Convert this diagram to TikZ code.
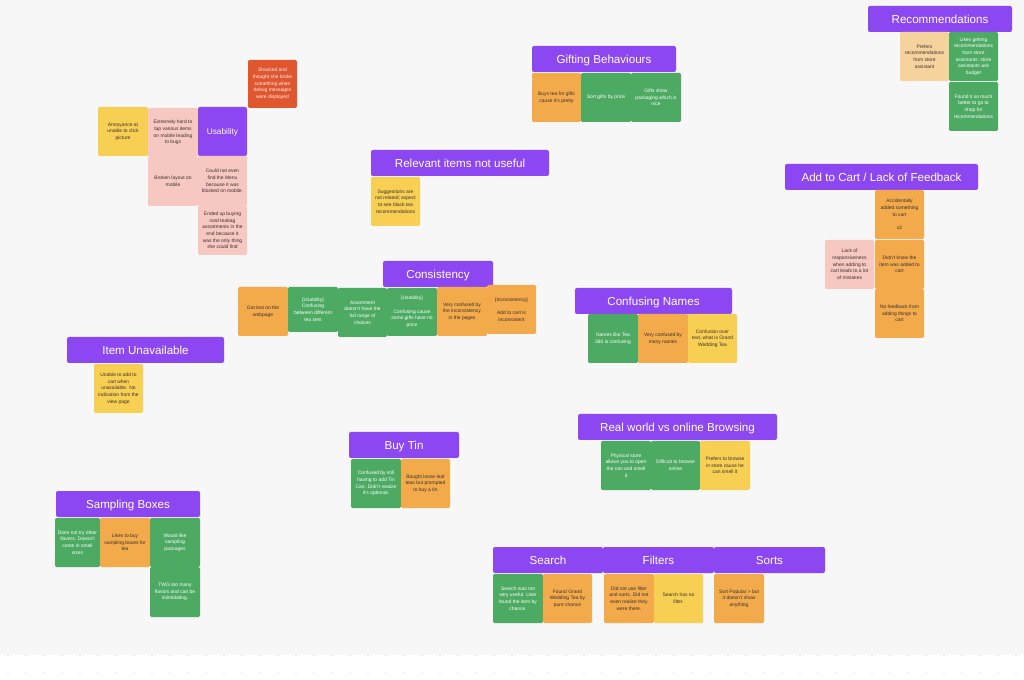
\documentclass[tikz,border=0pt]{standalone}
\usepackage{fontspec}
\setmainfont{Liberation Sans}
\definecolor{bg}{HTML}{F7F7F7}
\definecolor{purp}{HTML}{8C47F3}
\definecolor{gr}{HTML}{4DAA63}
\definecolor{orn}{HTML}{F3AA4B}
\definecolor{yel}{HTML}{F7CF52}
\definecolor{pnk}{HTML}{F7C7C1}
\definecolor{redn}{HTML}{E0572F}
\definecolor{pch}{HTML}{F6D39C}
\definecolor{dark}{HTML}{3A3030}
\tikzset{
  base/.style={rectangle, rounded corners=1pt, inner sep=0pt, align=center,
    font=\fontsize{3.7}{5}\selectfont},
  gn/.style={base, fill=gr, text=white},
  on/.style={base, fill=orn, text=dark},
  yn/.style={base, fill=yel, text=dark},
  pn/.style={base, fill=pnk, text=dark},
  rn/.style={base, fill=redn, text=white!90!redn},
  chn/.style={base, fill=pch, text=dark},
  hdr/.style={rectangle, rounded corners=1.5pt, inner sep=0pt, fill=purp, text=white,
    font=\fontsize{8.7}{10}\selectfont, text height=6.2pt, text depth=0pt},
  griddot/.style={fill=gray!40},
}
% \stk{style}{name}{x1}{y1}{x2}{y2}{text}
\newcommand\stk[7]{\node[#1, minimum width={(#5-#3)*0.75pt}, minimum height={(#6-#4)*0.75pt}]
  (#2) at ({(#3+#5)/2},{(#4+#6)/2}) {#7};}
\begin{document}
\begin{tikzpicture}[x=0.75pt,y=-0.75pt]
\path[fill=white,use as bounding box] (0,0) rectangle (1024,680);
\fill[bg] (0,0) rectangle (1024,655);
\foreach \gx in {8,26,...,1016}{
  \fill[griddot] (\gx,655.5) circle (0.7);
  \fill[griddot] (\gx,673) circle (0.7);
}

% Usability
\stk{rn}{u0}{248}{60}{297}{108}{Shocked and\\thought she broke\\something when\\debug messages\\were displayed}
\stk{yn}{u1}{98}{107}{148}{156}{Annoyance at\\unable to click\\picture}
\stk{pn}{u2}{148}{108}{198}{157}{Extremely hard to\\tap various items\\on mobile leading\\to bugs}
\stk{hdr,font=\fontsize{6.2}{7}\selectfont,text height=4.4pt}{usab}{198}{107}{247}{156}{Usability}
\stk{pn}{u3}{148}{157}{198}{206}{Broken layout on\\mobile}
\stk{pn}{u4}{198}{156}{247}{206}{Could not even\\find the Menu\\because it was\\blocked on mobile.}
\stk{pn}{u5}{198}{206}{247}{255}{Ended up buying\\iced teabag\\assortments in the\\end because it\\was the only thing\\she could find}

% Gifting
\stk{hdr}{gift}{532}{46}{676}{72}{Gifting Behaviours}
\stk{on}{g1}{532}{73}{581}{122}{Buys tea for gifts\\cause it's pretty}
\stk{gn}{g2}{581}{73}{631}{122}{Sort gifts by price}
\stk{gn}{g3}{631}{73}{681}{122}{Gifts show\\packaging which is\\nice}

% Recommendations
\stk{hdr}{rec}{868}{6}{1012}{32}{Recommendations}
\stk{chn}{r1}{900}{32}{949}{81}{Prefers\\recommendations\\from store\\assistant}
\stk{gn}{r2}{949}{32}{998}{81}{Likes getting\\recommendations\\from store\\assistants; store\\assistants ask\\budget}
\stk{gn}{r3}{949}{82}{998}{131}{Found it so much\\better to go to\\shop for\\recommendations}

% Relevant items
\stk{hdr}{rel}{371}{150}{549}{176}{Relevant items not useful}
\stk{yn}{re1}{371}{177}{420}{226}{Suggestions are\\not related; expect\\to see black tea\\recommendations}

% Add to cart
\stk{hdr}{cart}{785}{164}{978}{190}{Add to Cart / Lack of Feedback}
\stk{on}{c1}{875}{190}{924}{239}{Accidentally\\added something\\to cart\\[5pt]x2}
\stk{on}{c2}{875}{240}{924}{289}{Didn't know the\\item was added to\\cart}
\stk{on}{c3}{875}{289}{924}{338}{No feedback from\\adding things to\\cart}
\stk{pn}{c4}{825}{240}{874}{289}{Lack of\\responsiveness\\when adding to\\cart leads to a lot\\of mistakes}

% Consistency
\stk{hdr}{cons}{383}{261}{493}{287}{Consistency}
\stk{on}{k1}{238}{287}{288}{336}{Got lost on the\\webpage}
\stk{gn}{k2}{288}{287}{338}{332}{[Usability]\\Confusing\\between different\\tea sets}
\stk{gn}{k3}{338}{288}{387}{337}{Assortment\\doesn't have the\\full range of\\choices}
\stk{gn}{k4}{387}{288}{437}{336}{[Usability]\\[5pt]Confusing cause\\some gifts have no\\price}
\stk{on}{k5}{437}{287}{487}{336}{Very confused by\\the inconsistency\\in the pages}
\stk{on}{k6}{487}{285}{536}{334}{[Inconsistency]\\[5pt]Add to cart is\\inconsistent}

% Confusing names
\stk{hdr}{names}{575}{288}{732}{314}{Confusing Names}
\stk{gn}{n1}{588}{314}{638}{363}{Names like Tea\\380 is confusing}
\stk{on}{n2}{638}{314}{688}{363}{Very confused by\\many names}
\stk{yn}{n3}{688}{314}{737}{363}{Confusion over\\text, what is Grand\\Wedding Tea}

% Item unavailable
\stk{hdr}{unav}{67}{337}{224}{363}{Item Unavailable}
\stk{yn}{ia1}{94}{364}{143}{413}{Unable to add to\\cart when\\unavailable. No\\indication from the\\view page}

% Buy tin
\stk{hdr}{tin}{349}{432}{459}{458}{Buy Tin}
\stk{gn}{t1}{351}{459}{401}{508}{Confused by still\\having to add Tin\\Can. Didn't realize\\it's optional.}
\stk{on}{t2}{401}{459}{450}{508}{Bought loose leaf\\teas but prompted\\to buy a tin}

% Real world
\stk{hdr}{real}{578}{414}{777}{440}{Real world vs online Browsing}
\stk{gn}{w1}{601}{441}{651}{490}{Physical store\\allows you to open\\the can and smell\\it}
\stk{gn}{w2}{651}{441}{700}{490}{Difficult to browse\\online}
\stk{yn}{w3}{700}{441}{750}{490}{Prefers to browse\\in store cause he\\can smell it}

% Sampling boxes
\stk{hdr}{samp}{56}{491}{200}{517}{Sampling Boxes}
\stk{gn}{s1}{55}{518}{100}{567}{Does not try other\\flavors. Doesn't\\come in small\\sizes}
\stk{on}{s2}{100}{518}{150}{567}{Likes to buy\\sampling boxes for\\tea}
\stk{gn}{s3}{150}{518}{200}{567}{Would like\\sampling\\packages}
\stk{gn}{s4}{150}{567}{200}{617}{TWG too many\\flavors and can be\\intimidating.}

% Search / Filters / Sorts
\stk{hdr}{search}{493}{547}{603}{573}{Search}
\stk{hdr}{filt}{603}{547}{714}{573}{Filters}
\stk{hdr}{sorts}{714}{547}{825}{573}{Sorts}
\stk{gn}{x1}{493}{574}{543}{623}{Search was not\\very useful. User\\found the item by\\chance.}
\stk{on}{x2}{543}{574}{592}{623}{Found Grand\\Wedding Tea by\\pure chance}
\stk{on}{x3}{604}{574}{654}{623}{Did not use filter\\and sorts. Did not\\even realize they\\were there.}
\stk{yn}{x4}{654}{574}{703}{623}{Search has no\\filter.}
\stk{on}{x5}{714}{574}{764}{623}{Sort Popular > but\\it doesn't show\\anything}
\end{tikzpicture}
\end{document}
